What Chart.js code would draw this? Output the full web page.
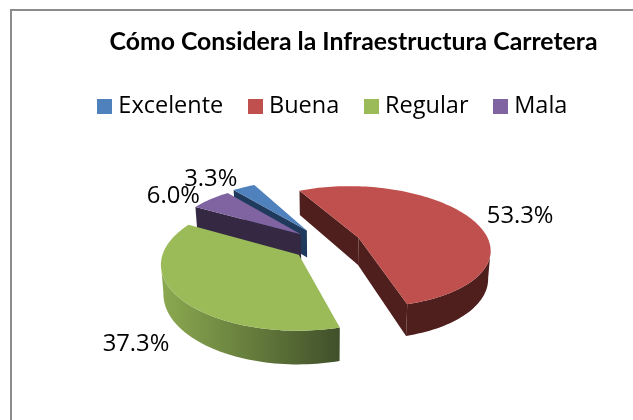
<!DOCTYPE html>
<html>
<head>
<meta charset="utf-8">
<style>html,body{margin:0;padding:0;background:#fff}#w{position:relative;width:633px;height:420px}</style>
<script src="https://cdn.jsdelivr.net/npm/chart.js@4"></script>
</head>
<body>
<div id="w"><canvas id="c" width="633" height="420"></canvas></div>
<script>
const categories = ['Excelente', 'Buena', 'Regular', 'Mala'];
const values = [3.3, 53.3, 37.3, 6.0];
const labelsText = ['3.3%', '53.3%', '37.3%', '6.0%'];
const topColors = ['#4F81BD', '#C0504D', '#9BBB59', '#8064A2'];
const wallColors = ['#1F3A5C', '#4F1F1E', '#4E6230', '#352843'];
const explodeX = [0.25, 0.28, 0.25, 0.24];
const explodeY = [0.33, 0.42, 0.2, 0.33];
const labelNudge = [[-33, -8], [50, -2], [-44, 46], [-37, -3]];
const drawOrder = [0, 3, 1, 2];

const view = { cx: 325, cy: 247, rx: 133, ry: 62, p: 0.15, tilt: 2, depth: 28, taper: 0.985 };

function project(X, Y) {
  const s = 1 / (1 - view.p * Y);
  return { x: view.cx + view.rx * X * s, y: view.cy + view.ry * Y * s + view.tilt * X, s };
}
function bottomOf(pt) {
  return { x: view.cx + (pt.x - view.cx) * view.taper, y: pt.y + view.depth * pt.s };
}
function sliceGeom(el, i) {
  // Chart.js angle 0 = 3 o'clock, increasing clockwise on screen
  const mid = (el.startAngle + el.endAngle) / 2;
  const ox = Math.cos(mid) * explodeX[i], oy = Math.sin(mid) * explodeY[i];
  const at = (ang, f) => project(ox + Math.cos(ang) * f, oy + Math.sin(ang) * f);
  const n = Math.max(8, Math.ceil((el.endAngle - el.startAngle) / 0.03));
  const arc = [];
  for (let k = 0; k <= n; k++) arc.push(at(el.startAngle + (el.endAngle - el.startAngle) * k / n, 1));
  return { apex: at(0, 0), arc, mid, at };
}
function fillWall(ctx, pts, fill) {
  if (pts.length < 2) return;
  ctx.beginPath();
  pts.forEach((p, k) => k ? ctx.lineTo(p.x, p.y) : ctx.moveTo(p.x, p.y));
  for (let k = pts.length - 1; k >= 0; k--) { const b = bottomOf(pts[k]); ctx.lineTo(b.x, b.y); }
  ctx.closePath();
  ctx.fillStyle = fill;
  ctx.fill();
}
const pie3d = {
  id: 'pie3d',
  beforeDraw(chart) {
    const { ctx } = chart;
    ctx.save();
    ctx.strokeStyle = '#8C8C8C'; ctx.lineWidth = 2;
    ctx.beginPath();
    ctx.moveTo(11, 420); ctx.lineTo(11, 10); ctx.lineTo(633, 10);
    ctx.stroke();
    ctx.restore();
  },
  afterLayout(chart) {
    const t = chart.titleBlock, l = chart.legend;
    t.left += 37; t.right += 37;
    l.left += 18.5; l.right += 18.5;
  },
  beforeDatasetDraw(chart, args) {
    const { ctx } = chart;
    const els = chart.getDatasetMeta(args.index).data;
    ctx.save();
    for (const i of drawOrder) {
      const g = sliceGeom(els[i], i);
      const ring = [g.apex, ...g.arc, g.apex];
      // visible wall runs: edges that move leftwards when walking the rim clockwise
      let run = [];
      const flush = () => {
        if (run.length >= 2) {
          let fill = wallColors[i];
          if (i === 2 && run.length > 2) {
            const gr = ctx.createLinearGradient(160, 0, 340, 0);
            gr.addColorStop(0, '#8CAA50');
            gr.addColorStop(1, '#40502A');
            fill = gr;
          }
          fillWall(ctx, run, fill);
        }
        run = [];
      };
      for (let k = 0; k < ring.length - 1; k++) {
        const a = ring[k], b = ring[k + 1];
        if (b.x < a.x) {
          if (!run.length) run.push(a);
          run.push(b);
          if (k === 0 || k === ring.length - 3) flush();
        } else flush();
      }
      flush();
      ctx.beginPath();
      ring.forEach((p, k) => k ? ctx.lineTo(p.x, p.y) : ctx.moveTo(p.x, p.y));
      ctx.closePath();
      ctx.fillStyle = topColors[i];
      ctx.fill();
    }
    ctx.restore();
    return false;
  },
  afterDatasetsDraw(chart) {
    const { ctx } = chart;
    const els = chart.getDatasetMeta(0).data;
    ctx.save();
    ctx.font = '23.8px "Open Sans"';
    ctx.fillStyle = '#000';
    ctx.textAlign = 'center';
    ctx.textBaseline = 'middle';
    els.forEach((el, i) => {
      const g = sliceGeom(el, i);
      const p = g.at(g.mid, 1);
      ctx.fillText(labelsText[i], p.x + labelNudge[i][0], p.y + labelNudge[i][1]);
    });
    ctx.restore();
  }
};

function swatch(color) {
  const c = document.createElement('canvas');
  c.width = 15; c.height = 15;
  const x = c.getContext('2d');
  x.fillStyle = color; x.fillRect(0, 0, 15, 15);
  return c;
}
const swatches = topColors.map(swatch);

new Chart(document.getElementById('c'), {
  type: 'pie',
  data: {
    labels: categories,
    datasets: [{ data: values, backgroundColor: topColors, borderWidth: 0 }]
  },
  options: {
    responsive: false,
    animation: false,
    rotation: -40.6,
    layout: { padding: { top: 27 } },
    plugins: {
      tooltip: { enabled: false },
      title: {
        display: true,
        text: 'Cómo Considera la Infraestructura Carretera',
        color: '#000',
        font: { family: 'Lato', size: 24.8, weight: 'bold' },
        padding: { top: 0, bottom: 8 }
      },
      legend: {
        display: true,
        position: 'top',
        labels: {
          usePointStyle: true, pointStyleWidth: 4, boxHeight: 15, padding: 30, color: '#000',
          font: { family: '"Open Sans"', size: 23.5 },
          generateLabels(chart) {
            return Chart.overrides.pie.plugins.legend.labels.generateLabels(chart)
              .map((it, i) => ({ ...it, pointStyle: swatches[i] }));
          }
        }
      }
    }
  },
  plugins: [pie3d]
});
</script>
</body>
</html>
